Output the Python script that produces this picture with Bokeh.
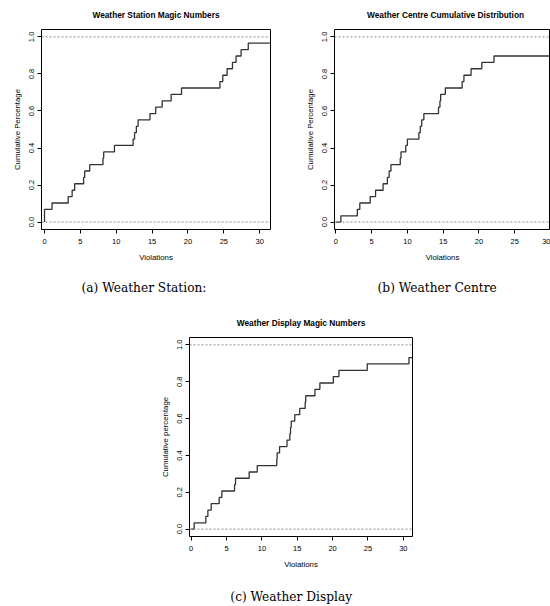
from bokeh.plotting import figure
from bokeh.models import Span, Range1d, FixedTicker, Spacer
from bokeh.layouts import column, row
from bokeh.core.properties import value
from bokeh.embed import file_html
from bokeh.resources import INLINE

# ---- data (jump positions and ECDF levels) ----
station_x = [0.0, 1.05, 3.3, 3.85, 4.2, 5.45, 5.6, 6.3, 8.15, 8.25, 9.75, 12.35,
             12.55, 12.8, 13.05, 14.7, 15.5, 16.4, 17.65, 19.1, 24.45, 24.85,
             25.45, 26.2, 26.7, 27.4, 28.4]
station_y = [0.069, 0.103, 0.138, 0.172, 0.207, 0.241, 0.276, 0.310, 0.345, 0.379,
             0.414, 0.448, 0.483, 0.517, 0.552, 0.586, 0.621, 0.655, 0.690, 0.724,
             0.759, 0.793, 0.828, 0.862, 0.897, 0.931, 0.966]

centre_x = [0.7, 3.0, 3.35, 4.8, 5.55, 6.6, 7.2, 7.45, 7.7, 9.0, 9.1, 9.77, 10.0,
            11.6, 11.8, 12.0, 12.3, 14.35, 14.55, 14.65, 15.3, 17.65, 17.9, 18.9,
            20.4, 22.1]
centre_y = [0.034, 0.069, 0.103, 0.138, 0.172, 0.207, 0.241, 0.276, 0.310, 0.345,
            0.379, 0.414, 0.448, 0.483, 0.517, 0.552, 0.586, 0.621, 0.655, 0.690,
            0.724, 0.759, 0.793, 0.828, 0.862, 0.897]

display_x = [0.42, 2.07, 2.36, 2.83, 3.96, 4.34, 6.13, 6.27, 8.2, 9.34, 12.1, 12.16,
             12.5, 13.55, 13.95, 14.05, 14.15, 14.65, 15.35, 16.12, 16.2, 17.5, 18.2,
             20.1, 20.9, 24.9, 30.8]
display_y = [0.034, 0.069, 0.103, 0.138, 0.172, 0.207, 0.241, 0.276, 0.310, 0.345,
             0.379, 0.414, 0.448, 0.483, 0.517, 0.552, 0.586, 0.621, 0.655, 0.690,
             0.724, 0.759, 0.793, 0.828, 0.862, 0.897, 0.931]

titles = ["Weather Station Magic Numbers", "Weather Centre Cumulative Distribution",
          "Weather Display Magic Numbers"]
y_labels = ["Cumulative Percentage", "Cumulative Percentage", "Cumulative percentage"]
captions = ["(a) Weather Station:", "(b) Weather Centre", "(c) Weather Display"]

x_ticks = [0, 5, 10, 15, 20, 25, 30]
y_ticks = [0.0, 0.2, 0.4, 0.6, 0.8, 1.0]
y_tick_labels = {0.0: "0.0", 0.2: "0.2", 0.4: "0.4", 0.6: "0.6", 0.8: "0.8", 1.0: "1.0"}

SANS = "Liberation Sans"
SERIF = "DejaVu Serif"


def make_panel(title, ylabel, xs, ys, xr, width, height, ml, mr, mb,
               title_align="center", title_offset=0):
    p = figure(width=width, height=height, output_backend="svg",
               toolbar_location=None, x_range=Range1d(*xr),
               y_range=Range1d(-0.04, 1.04),
               min_border_left=ml, min_border_right=mr, min_border_top=29,
               min_border_bottom=mb)
    p.title.text = title
    p.title.align = title_align
    p.title.offset = title_offset
    p.title.vertical_align = "top"
    p.title.standoff = 15
    p.title.text_font = SANS
    p.title.text_font_size = "8.3px"
    p.title.text_font_style = "bold"
    p.title.text_color = "black"
    p.grid.visible = False
    p.outline_line_color = "black"
    p.outline_line_width = 1
    p.background_fill_color = "white"
    p.border_fill_color = "white"

    for ax in (p.xaxis[0], p.yaxis[0]):
        ax.axis_line_color = None
        ax.major_tick_in = 0
        ax.major_tick_out = 4
        ax.minor_tick_line_color = None
        ax.major_tick_line_color = "black"
        ax.major_label_text_font = SANS
        ax.major_label_text_font_size = "7.5px"
        ax.major_label_text_color = "black"
        ax.axis_label_text_font = SANS
        ax.axis_label_text_font_size = "7.8px"
        ax.axis_label_text_font_style = "normal"
        ax.axis_label_text_color = "black"

    p.xaxis.ticker = FixedTicker(ticks=x_ticks)
    p.xaxis.axis_label = "Violations"
    p.xaxis.major_label_standoff = 5
    p.xaxis.axis_label_standoff = 6

    p.yaxis.ticker = FixedTicker(ticks=y_ticks)
    p.yaxis.major_label_overrides = y_tick_labels
    p.yaxis.major_label_orientation = "vertical"
    p.yaxis.axis_label = ylabel
    p.yaxis.major_label_standoff = 3
    p.yaxis.axis_label_standoff = 5

    for lvl in (0.0, 1.0):
        p.add_layout(Span(location=lvl, dimension="width", line_color="#8c8c8c",
                          line_dash="2 2", line_width=1))

    sx = [0.0] + list(xs) + [xr[1]]
    sy = [0.0] + list(ys) + [ys[-1]]
    p.step(sx, sy, mode="after", line_color="#333333", line_width=1.3)
    return p


def caption_fig(text, width, height, cx, cy):
    # a blank strip whose data units equal pixels, holding one caption
    c = figure(width=width, height=height, output_backend="svg",
               toolbar_location=None, x_range=Range1d(0, width),
               y_range=Range1d(0, height), min_border=0)
    c.xaxis.visible = False
    c.yaxis.visible = False
    c.grid.visible = False
    c.outline_line_color = None
    c.background_fill_color = "white"
    c.border_fill_color = "white"
    c.text(x=[cx], y=[height - cy], text=[text], text_align="center",
           text_baseline="middle", text_font=value(SERIF),
           text_font_size=value("12.2px"), text_color="black")
    return c


pa = make_panel(titles[0], y_labels[0], station_x, station_y, (-0.42, 31.5),
                275, 269, 41, 5, 40)
pb = make_panel(titles[1], y_labels[1], centre_x, centre_y, (-0.19, 30.0),
                275, 269, 59, 0, 40, title_align="left", title_offset=32.5)
pc = make_panel(titles[2], y_labels[2], display_x, display_y, (-0.24, 31.3),
                275, 268, 42, 10, 40)

ca = caption_fig(captions[0], 275, 39, 143.5, 18.5)
cb = caption_fig(captions[1], 275, 39, 161.7, 18.5)
cc = caption_fig(captions[2], 550, 30, 290.7, 20.5)

layout = column(row(pa, pb), row(ca, cb),
                row(Spacer(width=147, height=268), pc), cc)

open("out.html", "w").write(file_html(layout, INLINE))
